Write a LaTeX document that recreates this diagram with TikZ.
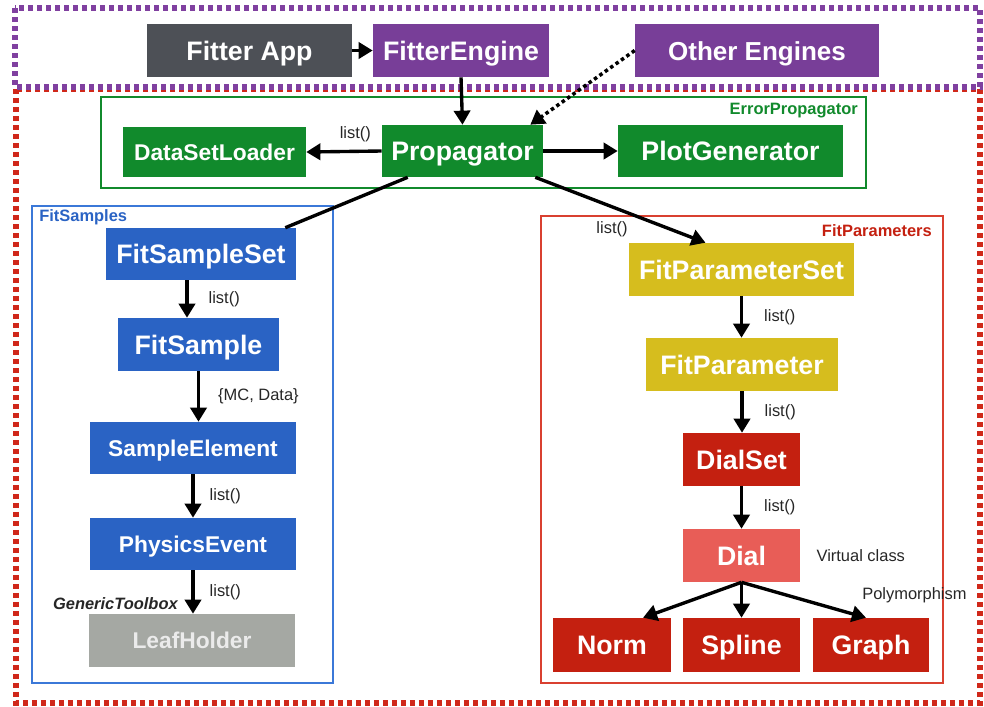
\documentclass[tikz,border=0pt]{standalone}
\usepackage{fontspec}
\setmainfont{Liberation Sans}
\usetikzlibrary{arrows.meta,positioning}

\definecolor{appgray}{HTML}{4D5056}
\definecolor{enginepurple}{HTML}{783E98}
\definecolor{propgreen}{HTML}{118A2C}
\definecolor{sampleblue}{HTML}{2A63C4}
\definecolor{frameblue}{HTML}{3B78D8}
\definecolor{paryellow}{HTML}{D6BD1E}
\definecolor{dialred}{HTML}{C42010}
\definecolor{virtualred}{HTML}{E85D57}
\definecolor{leafgray}{HTML}{A5A8A3}
\definecolor{framered}{HTML}{D94030}
\definecolor{dotred}{HTML}{D0281A}
\definecolor{dotpurple}{HTML}{8040A0}

\begin{document}
\begin{tikzpicture}[x=0.025cm, y=-0.025cm,
  classbox/.style={rectangle, inner sep=0pt, text=white,
                   text height=13.6pt, text depth=0pt,
                   font=\fontsize{19}{22}\selectfont\bfseries},
  smallbox/.style={classbox, text height=11.6pt,
                   font=\fontsize{16.2}{19}\selectfont\bfseries},
  arr/.style={line width=2.4pt, -{Triangle[length=10pt,width=11.5pt]}},
  lbl/.style={inner sep=0pt, font=\fontsize{11.7}{14}\selectfont, text=black!85},
  grouplabel/.style={inner sep=0pt, font=\fontsize{11.7}{14}\selectfont\bfseries},
  dotframe/.style={line width=3.6pt, dash pattern=on 3.4pt off 3.0pt},
  groupframe/.style={line width=1.1pt}]
  \useasboundingbox (0,0) rectangle (984,706);

  % outer dotted frames
  \draw[dotframe, dotred] (16,89) rectangle (980,703);
  \draw[dotframe, dotpurple] (15,8) rectangle (980,87);

  % group frames
  \draw[groupframe, propgreen] (101,97) rectangle (866,188);
  \draw[groupframe, frameblue] (32,206) rectangle (333,683);
  \draw[groupframe, framered] (541,216) rectangle (943,683);
  \node[grouplabel, text=propgreen, anchor=east] (errlabel) at (858,111) {ErrorPropagator};
  \node[grouplabel, text=sampleblue, anchor=west] (samplabel) at (39,217) {FitSamples};
  \node[grouplabel, text=dialred, anchor=east] (parlabel) at (932,231) {FitParameters};

  % top row
  \node[classbox, fill=appgray, minimum width=5.125cm, minimum height=1.325cm]
    (app) at (249.5,50.5) {Fitter App};
  \node[classbox, fill=enginepurple, minimum width=4.4cm, minimum height=1.325cm]
    (engine) at (461,50.5) {FitterEngine};
  \node[classbox, fill=enginepurple, minimum width=6.1cm, minimum height=1.325cm,
        font=\fontsize{18.5}{21}\selectfont\bfseries]
    (other) at (757,50.5) {Other Engines};

  % ErrorPropagator
  \node[smallbox, fill=propgreen, minimum width=4.575cm, minimum height=1.25cm]
    (loader) at (214.5,152) {DataSetLoader};
  \node[classbox, fill=propgreen, minimum width=4.025cm, minimum height=1.3cm]
    (prop) at (462.5,151) {Propagator};
  \node[classbox, fill=propgreen, minimum width=5.625cm, minimum height=1.3cm]
    (plot) at (730.5,151) {PlotGenerator};

  % FitSamples
  \node[classbox, fill=sampleblue, minimum width=4.75cm, minimum height=1.3cm]
    (sampleset) at (201,254) {FitSampleSet};
  \node[classbox, fill=sampleblue, minimum width=4.025cm, minimum height=1.325cm]
    (sample) at (198.5,344.5) {FitSample};
  \node[smallbox, fill=sampleblue, minimum width=5.15cm, minimum height=1.3cm]
    (element) at (193,448) {SampleElement};
  \node[smallbox, fill=sampleblue, minimum width=5.15cm, minimum height=1.3cm]
    (event) at (193,544) {PhysicsEvent};
  \node[smallbox, fill=leafgray, text=white!92!black, minimum width=5.15cm,
        minimum height=1.325cm]
    (leaf) at (192,640.5) {LeafHolder};

  % FitParameters
  \node[classbox, fill=paryellow, minimum width=5.625cm, minimum height=1.325cm]
    (parset) at (741.5,269.5) {FitParameterSet};
  \node[classbox, fill=paryellow, minimum width=4.8cm, minimum height=1.325cm]
    (par) at (742,364.5) {FitParameter};
  \node[classbox, fill=dialred, minimum width=2.925cm, minimum height=1.325cm]
    (dialset) at (741.5,459.5) {DialSet};
  \node[classbox, fill=virtualred, minimum width=2.925cm, minimum height=1.325cm]
    (dial) at (741.5,555.5) {Dial};
  \node[classbox, fill=dialred, minimum width=2.95cm, minimum height=1.35cm]
    (norm) at (612,645) {Norm};
  \node[classbox, fill=dialred, minimum width=2.925cm, minimum height=1.35cm]
    (spline) at (741.5,645) {Spline};
  \node[classbox, fill=dialred, minimum width=2.9cm, minimum height=1.35cm]
    (graph) at (871,645) {Graph};

  % top connections
  \draw[arr] (app.east) -- (engine.west);
  \draw[arr] (engine.south) -- (prop.north);
  \draw[line width=2.5pt, dash pattern=on 2.5pt off 2.2pt,
        -{Triangle[length=10pt,width=11.5pt]}]
    (other.west) -- ([xshift=-0.325cm]prop.north east);

  % propagator connections
  \draw[arr] (prop.west) -- (loader.east) node[lbl, pos=0.35, above=0.2cm] {list()};
  \draw[arr] (prop.east) -- (plot.west);
  \draw[line width=2.4pt] ([xshift=0.65cm]prop.south west)
    -- ([xshift=-0.275cm]sampleset.north east);
  \draw[arr] ([xshift=-0.2cm]prop.south east) -- ([xshift=-0.9cm]parset.north);
  \node[lbl] (parsetlist) at (612,229) {list()};

  % sample chain
  \draw[arr] ([xshift=-0.35cm]sampleset.south)
    -- ([xshift=-0.35cm]sampleset.south |- sample.north)
    node[lbl, midway, right=0.5cm] {list()};
  \draw[arr] (sample.south) -- (sample.south |- element.north)
    node[lbl, midway, right=0.45cm] {\{MC, Data\}};
  \draw[arr] (element.south) -- (element.south |- event.north)
    node[lbl, midway, right=0.375cm] {list()};
  \draw[arr] (event.south) -- (event.south |- leaf.north)
    node[lbl, midway, right=0.375cm] {list()};
  \node[lbl, anchor=east, font=\fontsize{11.7}{14}\selectfont\bfseries\itshape]
    (toolbox) at (178,604) {GenericToolbox};

  % parameter chain
  \draw[arr] (parset.south) -- (parset.south |- par.north)
    node[lbl, midway, right=0.525cm] {list()};
  \draw[arr] (par.south) -- (par.south |- dialset.north)
    node[lbl, midway, right=0.525cm] {list()};
  \draw[arr] (dialset.south) -- (dial.north)
    node[lbl, midway, right=0.525cm] {list()};
  \node[lbl, right=0.4cm of dial.east] (virtual) {Virtual class};

  % polymorphism
  \foreach \target/\shift in {norm/0.775cm, spline/0cm, graph/-0.125cm}
    \draw[arr] (dial.south) -- ([xshift=\shift]\target.north);
  \node[lbl, anchor=west] (poly) at (862,595) {Polymorphism};

\end{tikzpicture}
\end{document}
